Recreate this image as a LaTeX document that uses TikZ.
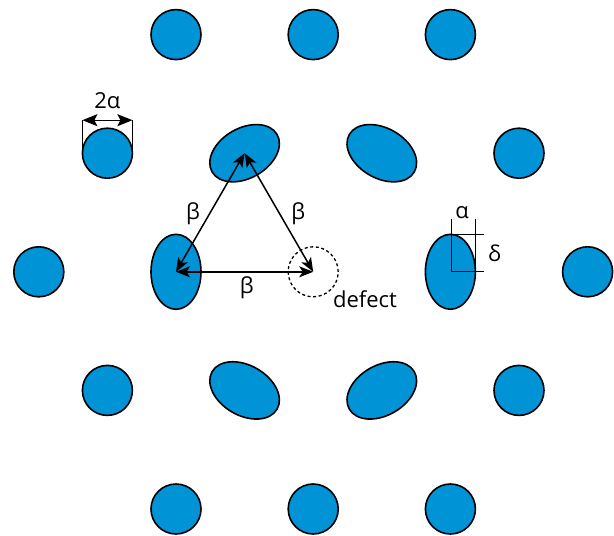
\documentclass[tikz,border=0pt]{standalone}
\usepackage{fontspec}
\setmainfont{Open Sans}
\usetikzlibrary{shapes.geometric,arrows.meta,calc}
\definecolor{dotblue}{RGB}{0,147,214}
\begin{document}
\begin{tikzpicture}[x=1pt,y=1pt,
  dot/.style={circle,draw=black,fill=dotblue,line width=1.6pt,minimum size=50pt,inner sep=0pt,outer sep=0pt},
  elong/.style={ellipse,draw=black,fill=dotblue,line width=1.6pt,minimum width=75pt,minimum height=50pt,inner sep=0pt,outer sep=0pt},
  vacancy/.style={circle,draw=black,dash pattern=on 3pt off 2.6pt,line width=1.3pt,minimum size=50pt,inner sep=0pt,outer sep=0pt},
  dimline/.style={line width=1.2pt},
  darrow/.style={line width=1.5pt,{Stealth[length=14pt,width=11pt,inset=3.5pt]}-{Stealth[length=14pt,width=11pt,inset=3.5pt]}},
  lab/.style={font=\fontsize{22}{26}\selectfont,inner sep=0pt}]
\useasboundingbox (0,0) rectangle (614,-536);
% row 1
\node[dot] (c11) at (176.0,-34.6) {};
\node[dot] (c12) at (313.2,-34.6) {};
\node[dot] (c13) at (450.4,-34.6) {};
% row 2
\node[dot] (c21) at (107.4,-153.2) {};
\node[elong,rotate=30] (e21) at (244.6,-153.2) {};
\node[elong,rotate=-30] (e22) at (381.8,-153.2) {};
\node[dot] (c24) at (519.0,-153.2) {};
% row 3
\node[dot] (c31) at (38.8,-271.8) {};
\node[elong,rotate=90] (e31) at (176.0,-271.8) {};
\node[vacancy] (def) at (313.2,-271.8) {};
\node[elong,rotate=90] (e32) at (450.4,-271.8) {};
\node[dot] (c35) at (587.6,-271.8) {};
% row 4
\node[dot] (c41) at (107.4,-390.4) {};
\node[elong,rotate=-30] (e41) at (244.6,-390.4) {};
\node[elong,rotate=30] (e42) at (381.8,-390.4) {};
\node[dot] (c44) at (519.0,-390.4) {};
% row 5
\node[dot] (c51) at (176.0,-509.0) {};
\node[dot] (c52) at (313.2,-509.0) {};
\node[dot] (c53) at (450.4,-509.0) {};
% triangle of distances
\draw[darrow] (e21.center) -- (e31.center);
\draw[darrow] (e21.center) -- (def.center);
\draw[darrow] (e31.center) -- (def.center);
\node[lab] (b1) at (193.0,-213.7) {β};
\node[lab] (b2) at (298.4,-213.7) {β};
\node[lab] (b3) at (246.7,-288.0) {β};
\node[lab] (dlab) at (365.0,-299.0) {defect};
% 2 alpha dimension
\coordinate (dl) at ($(c21.center)+(-25,33)$);
\coordinate (dr) at ($(c21.center)+(25,33)$);
\draw[dimline] (dl) -- ($(c21.center)+(-25,0)$);
\draw[dimline] (dr) -- ($(c21.center)+(25,0)$);
\draw[line width=1.3pt,{Stealth[length=15pt,width=12pt,inset=3pt]}-{Stealth[length=15pt,width=12pt,inset=3pt]}] (dl) -- (dr);
\node[lab] (twoa) at (107.4,-101.0) {2α};
% alpha / delta box
\coordinate (ac) at ($(e32.center)+(1,53.3)$);
\coordinate (ae) at ($(e32.center)+(25,53.3)$);
\coordinate (at) at ($(e32.center)+(1,37.5)$);
\coordinate (atr) at ($(e32.center)+(33.2,37.5)$);
\coordinate (ab) at ($(e32.center)+(1,0)$);
\coordinate (abr) at ($(e32.center)+(33.2,0)$);
\draw[dimline] (ac) -- (ab) -- (abr);
\draw[dimline] (ae) -- ($(e32.center)+(25,0)$);
\draw[dimline] (at) -- (atr);
\node[lab] (alab) at (462.0,-212.5) {α};
\node[lab] (dellab) at (494.5,-253.7) {δ};
\end{tikzpicture}
\end{document}
